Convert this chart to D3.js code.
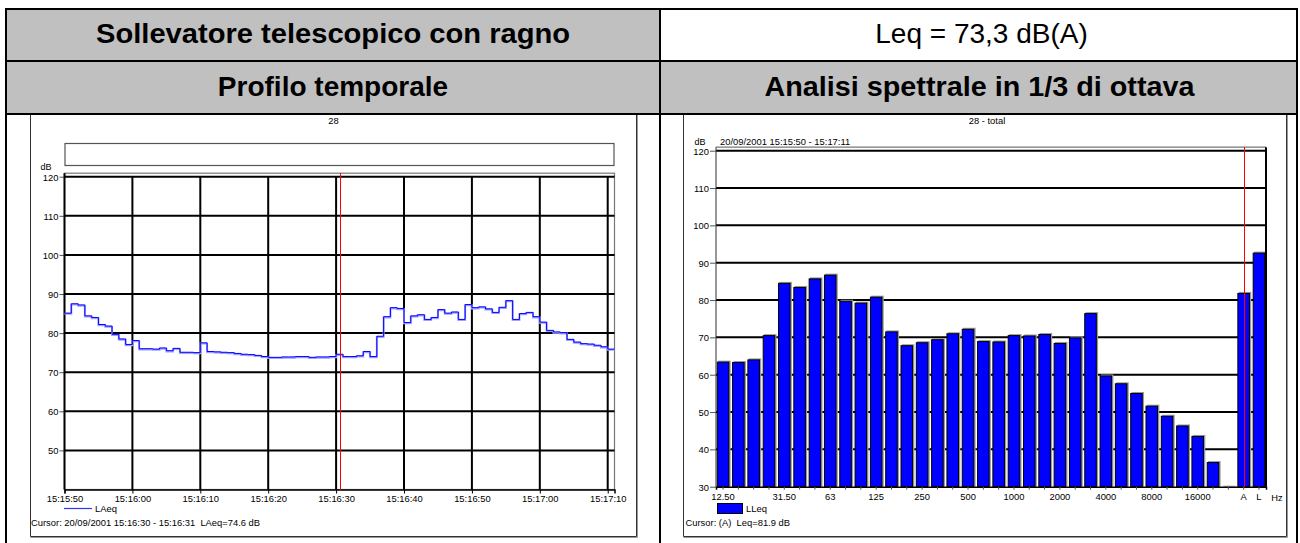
<!DOCTYPE html>
<html><head><meta charset="utf-8">
<script src="https://cdn.jsdelivr.net/npm/d3@7"></script>
<style>
body{margin:0;background:#fff;overflow:hidden}
svg{display:block;font-family:"Liberation Sans",Arial,sans-serif}
text{white-space:pre}
</style>
</head><body>
<svg id="c" width="1300" height="543"></svg>
<script>
// ---------------- data ----------------
const headerTitle = "Sollevatore telescopico con ragno";
const headerLeq = "Leq = 73,3 dB(A)";
const sectionLeft = "Profilo temporale";
const sectionRight = "Analisi spettrale in 1/3 di ottava";

const leftChartTitle = "28";
const rightChartTitle = "28 - total";
const rightPeriod = "20/09/2001 15:15:50 - 15:17:11";
const leftCursorText = "Cursor: 20/09/2001 15:16:30 - 15:16:31  LAeq=74.6 dB";
const rightCursorText = "Cursor: (A)  Leq=81.9 dB";

// time profile: one LAeq value per second, starting 15:15:50
const timeStartParts = [2001, 8, 20, 15, 15, 50];
const timeEndOffsetSec = 81;
const cursorOffsetSec = 40.5;
const laeqValues = [
  85.1, 87.5, 87.2, 84.4, 84.0, 82.2, 81.8, 79.7, 78.5, 77.1,
  78.1, 76.0, 76.0, 75.9, 76.2, 75.5, 76.1, 75.1, 75.1, 75.0,
  77.5, 75.3, 75.2, 75.1, 75.0, 74.8, 74.6, 74.5, 74.3, 74.0,
  73.8, 73.8, 73.9, 73.9, 74.0, 74.0, 73.8, 73.9, 73.9, 74.0,
  74.6, 74.0, 74.0, 74.2, 75.3, 74.0, 79.2, 84.2, 86.5, 86.3,
  82.7, 84.4, 84.7, 83.5, 84.0, 86.0, 85.1, 85.4, 83.5, 87.3,
  86.5, 86.7, 86.2, 85.3, 86.6, 88.3, 83.5, 85.0, 85.3, 84.2,
  82.8, 80.7, 80.3, 80.1, 78.4, 77.7, 77.3, 77.2, 76.9, 76.5,
  75.9
];
const timeTickOffsets = [0, 10, 20, 30, 40, 50, 60, 70, 80];
const levelDomainLeft = [40, 120];
const levelTicksLeft = [50, 60, 70, 80, 90, 100, 110, 120];

// 1/3 octave spectrum
const bandCategories = ["12.5","16","20","25","31.5","40","50","63","80","100","125","160","200","250","315","400","500","630","800","1000","1250","1600","2000","2500","3150","4000","5000","6300","8000","10000","12500","16000","20000","-","A","L"];
const bandValues = [63.5,63.4,64.1,70.6,84.6,83.5,85.8,86.8,79.8,79.3,80.9,71.6,67.9,68.7,69.5,71.1,72.3,69.0,68.9,70.6,70.5,70.9,68.5,70.0,76.5,59.8,57.7,55.1,51.7,49.0,46.4,43.6,36.6,30.0,81.9,92.7];
const bandTickLabels = {"12.5":"12.50","31.5":"31.50","63":"63","125":"125","250":"250","500":"500","1000":"1000","2000":"2000","4000":"4000","8000":"8000","16000":"16000","A":"A","L":"L"};
const cursorBand = "A";
const levelDomainRight = [30, 120];
const levelTicksRight = [30, 40, 50, 60, 70, 80, 90, 100, 110, 120];

// ---------------- drawing ----------------
const svg = d3.select("#c");
const FS = 9.4;
const FF = "Liberation Sans, Arial, sans-serif";

// table background / header
const T = {x0: 6, x1: 1297, xm: 660, y0: 9, r1: 61, r2: 114, y1: 600};
svg.append("rect").attr("x", T.x0).attr("y", T.y0).attr("width", T.xm - T.x0).attr("height", T.r1 - T.y0).attr("fill", "#c0c0c0");
svg.append("rect").attr("x", T.x0).attr("y", T.r1).attr("width", T.x1 - T.x0).attr("height", T.r2 - T.r1).attr("fill", "#c0c0c0");
const tb = svg.append("g").attr("stroke", "#000").attr("stroke-width", 2).attr("fill", "none");
tb.append("rect").attr("x", T.x0).attr("y", T.y0).attr("width", T.x1 - T.x0).attr("height", T.y1 - T.y0);
tb.append("line").attr("x1", T.x0).attr("x2", T.x1).attr("y1", T.r1).attr("y2", T.r1);
tb.append("line").attr("x1", T.x0).attr("x2", T.x1).attr("y1", T.r2).attr("y2", T.r2);
tb.append("line").attr("x1", T.xm).attr("x2", T.xm).attr("y1", T.y0).attr("y2", T.y1);

function htext(x, y, s, bold, len) {
  const t = svg.append("text").attr("x", x).attr("y", y).attr("text-anchor", "middle")
    .attr("font-size", 28).attr("font-weight", bold ? "bold" : "normal").attr("fill", "#000").text(s);
  if (len) t.attr("textLength", len).attr("lengthAdjust", "spacingAndGlyphs");
}
htext((T.x0 + T.xm) / 2, 43, headerTitle, true, 474);
htext((T.xm + T.x1) / 2 + 3, 43, headerLeq, false);
htext((T.x0 + T.xm) / 2, 96, sectionLeft, true);
htext((T.xm + T.x1) / 2 + 1, 96, sectionRight, true, 430);

function frame(x0, x1, y0, y1) {
  svg.append("line").attr("x1", x1 + 1).attr("x2", x1 + 1).attr("y1", y0).attr("y2", y1 + 1).attr("stroke", "#999").attr("stroke-width", 1);
  svg.append("line").attr("x1", x0).attr("x2", x1 + 1).attr("y1", y1 + 1).attr("y2", y1 + 1).attr("stroke", "#999").attr("stroke-width", 1);
  svg.append("path").attr("d", `M${x0},${y0}V${y1}H${x1}V${y0}`).attr("fill", "none").attr("stroke", "#333").attr("stroke-width", 1);
}
function txt(x, y, s, anchor, size) {
  return svg.append("text").attr("x", x).attr("y", y).attr("text-anchor", anchor || "start")
    .attr("font-size", size || FS).attr("fill", "#000").text(s);
}

// ======== LEFT: time profile ========
const LF = {x0: 30.5, x1: 636.5, y0: 115, y1: 536.5};
frame(LF.x0, LF.x1, LF.y0, LF.y1);
const L = {x0: 64.5, x1: 614.5, yb: 489.5, yt: 176.7};
const t0 = new Date(timeStartParts[0], timeStartParts[1], timeStartParts[2], timeStartParts[3], timeStartParts[4], timeStartParts[5]);
const tAt = s => new Date(t0.getTime() + s * 1000);
const xT = d3.scaleTime().domain([t0, tAt(timeEndOffsetSec)]).range([L.x0, L.x1]);
const yL = d3.scaleLinear().domain(levelDomainLeft).range([L.yb, L.yt]);

txt((LF.x0 + LF.x1) / 2, 124, leftChartTitle, "middle");
svg.append("rect").attr("x", L.x0 + 0.5).attr("y", 143.5).attr("width", L.x1 - L.x0 - 1).attr("height", 22)
  .attr("fill", "none").attr("stroke", "#555").attr("stroke-width", 1.2);
txt(46, 169.5, "dB", "middle", 9);

svg.append("rect").attr("x", L.x0).attr("y", L.yt - 3.5).attr("width", L.x1 - L.x0).attr("height", L.yb - L.yt + 3.5)
  .attr("fill", "none").attr("stroke", "#777").attr("stroke-width", 1.2);

const gL = svg.append("g");
gL.selectAll("line.h").data(levelTicksLeft).join("line")
  .attr("x1", L.x0).attr("x2", L.x1).attr("y1", d => yL(d)).attr("y2", d => yL(d))
  .attr("stroke", "#000").attr("stroke-width", 2);
gL.selectAll("line.v").data(timeTickOffsets.slice(1)).join("line")
  .attr("x1", d => xT(tAt(d))).attr("x2", d => xT(tAt(d))).attr("y1", L.yt).attr("y2", L.yb)
  .attr("stroke", "#000").attr("stroke-width", 2);
const axL = d3.axisLeft(yL).tickValues(levelTicksLeft).tickSize(5).tickPadding(1);
const axLg = svg.append("g").attr("transform", `translate(${L.x0},0)`).call(axL);
axLg.select(".domain").remove();
axLg.selectAll(".tick line").attr("stroke", "#555");
axLg.selectAll(".tick text").attr("font-size", FS).attr("font-family", FF).attr("fill", "#000").attr("dy", "0.36em");
svg.append("line").attr("x1", L.x0).attr("x2", L.x0).attr("y1", L.yt - 3.5).attr("y2", L.yb).attr("stroke", "#000").attr("stroke-width", 2);
const axB = d3.axisBottom(xT).tickValues(timeTickOffsets.map(tAt)).tickFormat(d3.timeFormat("%H:%M:%S")).tickSize(4).tickPadding(1.5);
const axBg = svg.append("g").attr("transform", `translate(0,${L.yb})`).call(axB);
axBg.select(".domain").attr("stroke", "#000").attr("stroke-width", 1.5);
axBg.selectAll(".tick line").attr("stroke", "#000");
axBg.selectAll(".tick text").attr("font-size", FS).attr("font-family", FF).attr("fill", "#000");

// step line
const linePts = laeqValues.map((v, i) => [tAt(i), v]).concat([[tAt(timeEndOffsetSec), laeqValues[laeqValues.length - 1]]]);
const stepLine = d3.line().x(d => xT(d[0])).y(d => yL(d[1])).curve(d3.curveStepAfter);
svg.append("path").attr("d", stepLine(linePts)).attr("fill", "none").attr("stroke", "#a0a0ff").attr("stroke-width", 2).attr("transform", "translate(0,0.7)");
svg.append("path").attr("d", stepLine(linePts)).attr("fill", "none").attr("stroke", "#0000ff").attr("stroke-width", 1);

// cursor
const lcx = Math.round(xT(tAt(cursorOffsetSec))) + 0.5;
svg.append("line").attr("x1", lcx).attr("x2", lcx)
  .attr("y1", L.yt - 3.5).attr("y2", L.yb).attr("stroke", "#ff0000").attr("stroke-width", 1).attr("shape-rendering", "crispEdges");

svg.append("line").attr("x1", 64).attr("x2", 92).attr("y1", 508.5).attr("y2", 508.5).attr("stroke", "#3333ff").attr("stroke-width", 1.2);
txt(95, 511.5, "LAeq");
txt(31, 526, leftCursorText);

// ======== RIGHT: spectrum ========
const RF = {x0: 683.5, x1: 1286.5, y0: 115, y1: 536.5};
frame(RF.x0, RF.x1, RF.y0, RF.y1);
const R = {x0: 716, x1: 1266, yb: 486.7, yt: 150.7};
const xB = d3.scaleBand().domain(bandCategories).range([R.x0, R.x1]).paddingInner(0.18).paddingOuter(0.05);
const yR = d3.scaleLinear().domain(levelDomainRight).range([R.yb, R.yt]);

txt((RF.x0 + RF.x1) / 2 + 2, 124, rightChartTitle, "middle");
txt(700, 144.5, "dB", "middle", 9);
txt(720, 144.5, rightPeriod);

svg.append("line").attr("x1", R.x0).attr("x2", R.x1).attr("y1", R.yt - 3.5).attr("y2", R.yt - 3.5).attr("stroke", "#777").attr("stroke-width", 1.2);
svg.append("g").selectAll("line").data(levelTicksRight.slice(1)).join("line")
  .attr("x1", R.x0).attr("x2", R.x1).attr("y1", d => yR(d)).attr("y2", d => yR(d))
  .attr("stroke", "#000").attr("stroke-width", 2);

const bars = svg.append("g");
bandCategories.forEach((c, i) => {
  const v = bandValues[i];
  const x = xB(c), w = xB.bandwidth(), y = yR(v), h = yR(levelDomainRight[0]) - y;
  bars.append("rect").attr("x", x + 1.3).attr("y", y - 1).attr("width", w).attr("height", h + 1)
    .attr("fill", "#999").attr("stroke", "none");
  if (h > 0) {
    bars.append("rect").attr("x", x + 0.5).attr("y", y + 0.5).attr("width", w - 1).attr("height", h - 0.5)
      .attr("fill", "#0000ff").attr("stroke", "#000").attr("stroke-width", 1);
  }
});

svg.append("line").attr("x1", R.x1).attr("x2", R.x1).attr("y1", R.yt - 3.5).attr("y2", R.yb).attr("stroke", "#000").attr("stroke-width", 2);
svg.append("line").attr("x1", R.x0).attr("x2", R.x0).attr("y1", R.yt - 3.5).attr("y2", R.yb).attr("stroke", "#333").attr("stroke-width", 1);

const axR = d3.axisLeft(yR).tickValues(levelTicksRight).tickSize(6).tickPadding(1);
const axRg = svg.append("g").attr("transform", `translate(${R.x0},0)`).call(axR);
axRg.select(".domain").remove();
axRg.selectAll(".tick line").attr("stroke", "#555");
axRg.selectAll(".tick text").attr("font-size", FS).attr("font-family", FF).attr("fill", "#000").attr("dy", "0.36em");

const axRB = d3.axisBottom(xB).tickSize(3).tickPadding(4).tickFormat(c => bandTickLabels[c] || "");
const axRBg = svg.append("g").attr("transform", `translate(0,${R.yb})`).call(axRB);
axRBg.select(".domain").attr("stroke", "#000").attr("stroke-width", 1.5);
axRBg.selectAll(".tick line").attr("stroke", "#555");
axRBg.selectAll(".tick text").attr("font-size", FS).attr("font-family", FF).attr("fill", "#000");
txt(1277, 500.5, "Hz", "middle");

const cx = Math.round(xB(cursorBand) + xB.bandwidth() / 2) + 0.5;
svg.append("line").attr("x1", cx).attr("x2", cx).attr("y1", R.yt - 3.5).attr("y2", R.yb).attr("stroke", "#ff0000").attr("stroke-width", 1).attr("shape-rendering", "crispEdges");

svg.append("rect").attr("x", 717.5).attr("y", 503.5).attr("width", 25).attr("height", 10).attr("fill", "#0000ff").attr("stroke", "#000").attr("stroke-width", 1);
txt(746, 512, "LLeq");
txt(685.5, 526, rightCursorText);
</script>
</body></html>
